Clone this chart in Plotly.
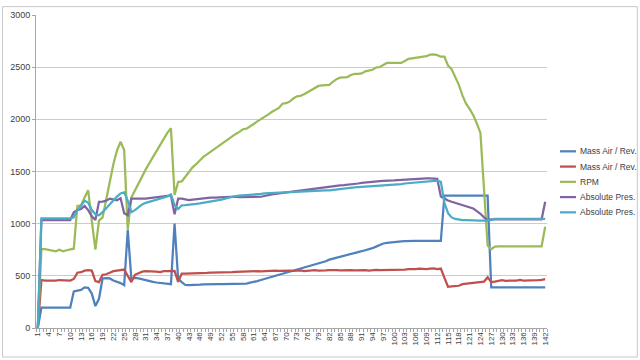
import plotly.graph_objects as go

categories = list(range(1, 143))
tick_labels = [str(c) for c in range(1, 143, 3)]

mass_air_1 = ([0] + [195]*9 +
    [350, 360, 365, 390, 385, 330, 210, 280, 475, 478, 475, 455, 445, 430, 410, 940, 470,
     480, 475, 465, 455, 448, 442, 436, 432, 428, 424, 420, 1000, 470, 440, 412, 410, 410,
     412, 415, 418, 420] +
    [420]*10 +
    [425, 435, 440, 450, 460, 470, 480, 490, 500, 505, 515, 525, 535, 545, 555, 565, 575,
     585, 595, 605, 615, 630, 640, 655, 665, 675, 685, 695, 705, 710, 720, 728, 736, 745,
     755, 765, 780, 795, 810, 815, 820, 825, 828, 830, 832, 835] +
    [835]*9 + [1270]*13 + [390]*16)

mass_air_2 = [0, 460, 455, 455, 450, 455, 460, 460, 455, 455, 470, 530, 535, 550, 555, 550, 450,
    440, 510, 515, 530, 545, 550, 555, 560, 500, 440, 510, 525, 540, 545, 545, 545, 540, 535,
    545, 545, 548, 548, 443, 522, 522, 522, 522, 525, 525, 525, 528, 530, 530, 528, 532, 535,
    532, 535, 538, 540, 538, 540, 542, 545, 545, 542, 545, 548, 545, 550, 548, 550, 552, 550,
    548, 550, 552, 545, 548, 552, 555, 550, 548, 552, 555, 558, 555, 552, 555, 558, 555, 552,
    555, 558, 555, 550, 555, 558, 555, 555, 558, 560, 558, 555, 558, 560, 565, 562, 565, 568,
    565, 565, 570, 572, 565, 570, 480, 395, 400, 402, 405, 420, 425, 432, 435, 437, 440, 445,
    485, 440, 445, 455, 458, 452, 450, 455, 455, 460, 455, 458, 458, 458, 460, 462, 468]

rpm = ([0, 755, 755, 750, 740, 735, 750, 735, 745, 755, 760, 1170, 1175, 1250, 1320, 1030, 752,
    1030, 1060, 1230, 1420, 1570, 1700, 1785, 1705, 945, 1250, 1320, 1390, 1450, 1520, 1580,
    1640, 1700, 1760, 1820, 1870, 1915, 1275, 1400, 1405, 1450, 1500, 1540, 1570, 1610, 1640,
    1665, 1690, 1710, 1735, 1760, 1790, 1815, 1840, 1860, 1880, 1905, 1910, 1930, 1955, 1980,
    2000, 2025, 2045, 2070, 2090, 2110, 2150, 2155, 2170, 2200, 2220, 2225, 2240, 2260, 2280,
    2300, 2320, 2325, 2325, 2330, 2360, 2385, 2400, 2403, 2405, 2425, 2435, 2435, 2440, 2460,
    2470, 2475, 2497, 2500, 2520, 2540, 2540, 2540, 2540, 2540, 2560, 2580, 2585, 2590, 2600,
    2605, 2605, 2620, 2623, 2615, 2600, 2600, 2515, 2480, 2400, 2330, 2230, 2150, 2100, 2040,
    1960, 1870, 1330, 790, 755, 780] + [783]*13 + [970])

abs_pres_1 = ([0] + [1035]*9 +
    [1110, 1130, 1140, 1170, 1130, 1070, 1035, 1210, 1212, 1220, 1240, 1235, 1225, 1245, 1100,
     1080, 1240, 1240, 1240, 1235, 1240, 1245, 1250, 1250, 1255, 1260, 1265, 1270, 1090, 1240,
     1240, 1230, 1225, 1230, 1235, 1240, 1245, 1248, 1250, 1250, 1252, 1255, 1258, 1260, 1262,
     1260, 1255, 1255, 1255, 1255, 1255, 1255, 1258, 1265, 1275, 1280, 1285, 1290, 1295, 1300,
     1305, 1310, 1315, 1320, 1325, 1330, 1335, 1340, 1345, 1348, 1350, 1355, 1360, 1365, 1368,
     1370, 1372, 1375, 1380, 1385, 1390, 1395, 1400, 1405, 1406, 1408, 1410, 1410, 1412, 1415,
     1418, 1420, 1425, 1430, 1432, 1434, 1434, 1434, 1434, 1434, 1434, 1430, 1260, 1240, 1222,
     1210, 1200, 1185, 1180, 1170, 1160, 1145, 1120, 1095, 1060, 1035, 1040] +
    [1042]*14 + [1210])

abs_pres_2 = ([0] + [1050]*9 +
    [1060, 1130, 1170, 1220, 1200, 1130, 1090, 1080, 1110, 1150, 1190, 1230, 1260, 1290, 1300,
     1220, 1110, 1130, 1160, 1185, 1200, 1210, 1220, 1230, 1240, 1250, 1260, 1280, 1180, 1140,
     1176, 1178, 1180, 1185, 1190, 1195, 1200, 1205, 1210, 1215, 1220, 1230, 1240, 1250, 1262,
     1265, 1268, 1270, 1272, 1275, 1278, 1280, 1285, 1290, 1292, 1295, 1298, 1300, 1300, 1302,
     1305, 1305, 1308, 1310, 1310, 1312, 1315, 1315, 1318, 1318, 1320, 1320, 1325, 1330, 1335,
     1340, 1345, 1345, 1348, 1350, 1352, 1355, 1358, 1360, 1362, 1362, 1365, 1365, 1368, 1370,
     1375, 1380, 1385, 1388, 1390, 1395, 1398, 1400, 1405, 1408, 1410, 1412, 1400, 1200, 1100,
     1060, 1045, 1038, 1035, 1035, 1032, 1030, 1030, 1030, 1030, 1032, 1035] + [1045]*15)

series_names = ["Mass Air / Rev.", "Mass Air / Rev.", "RPM", "Absolute Pres.", "Absolute Pres."]
series_values = [mass_air_1, mass_air_2, rpm, abs_pres_1, abs_pres_2]
series_colors = ["#4F81BD", "#C0504D", "#9BBB59", "#8064A2", "#4BACC6"]

W, H = 640, 360
L, R, T, B = 35, 93, 10, 32
PW, PH = W - L - R, H - T - B

def px(xp):
    return (xp - L) / PW

def py(yp):
    return (H - B - yp) / PH

fig = go.Figure()
for name, vals, color in zip(series_names, series_values, series_colors):
    fig.add_trace(go.Scatter(x=categories, y=vals, mode="lines", name=name,
                             line=dict(color=color, width=2.25)))

font_family = "Liberation Sans"
text_color = "#404040"
fig.update_layout(
    width=W, height=H,
    margin=dict(l=L, r=R, t=T, b=B),
    paper_bgcolor="white", plot_bgcolor="white",
    font=dict(family=font_family, size=9, color=text_color),
    showlegend=False,
    xaxis=dict(range=[0.5, 142.5], tickmode="array",
               tickvals=list(range(1, 143, 3)), ticktext=tick_labels,
               tickangle=-90, tickfont=dict(size=8, color=text_color),
               showgrid=False, zeroline=False, ticks="",
               showline=True, linecolor="#a6a6a6", linewidth=1,
               minor=dict(tick0=0.5, dtick=1, ticks="outside", ticklen=3,
                          tickcolor="#a6a6a6", showgrid=False)),
    yaxis=dict(range=[0, 3000], tickmode="linear", tick0=0, dtick=500,
               showgrid=True, gridcolor="#cccccc", gridwidth=1,
               zeroline=False, showline=True, linecolor="#a6a6a6", linewidth=1,
               ticks="outside", ticklen=3, tickcolor="#a6a6a6",
               tickfont=dict(size=9, color=text_color)),
)

# manual legend (Excel style, tight spacing)
leg_y0, leg_dy = 148.5, 15.5
for k, (name, color) in enumerate(zip(series_names, series_colors)):
    yy = leg_y0 + k * leg_dy
    fig.add_shape(type="line", xref="paper", yref="paper",
                  x0=px(560), x1=px(576), y0=py(yy), y1=py(yy),
                  line=dict(color=color, width=2.25))
    fig.add_annotation(xref="paper", yref="paper", x=px(578), y=py(yy),
                       xanchor="left", yanchor="middle", showarrow=False,
                       text=name, font=dict(size=8.5, color=text_color, family=font_family))

# chart-area border
fig.add_shape(type="rect", xref="paper", yref="paper",
              x0=px(1.5), x1=px(637.5), y0=py(357.5), y1=py(1.5),
              line=dict(color="#c8c8c8", width=1), fillcolor="rgba(0,0,0,0)", layer="below")

fig.write_html("out.html", config={"displayModeBar": False},
               post_script="document.body.style.margin='0';document.body.style.overflow='hidden';")
